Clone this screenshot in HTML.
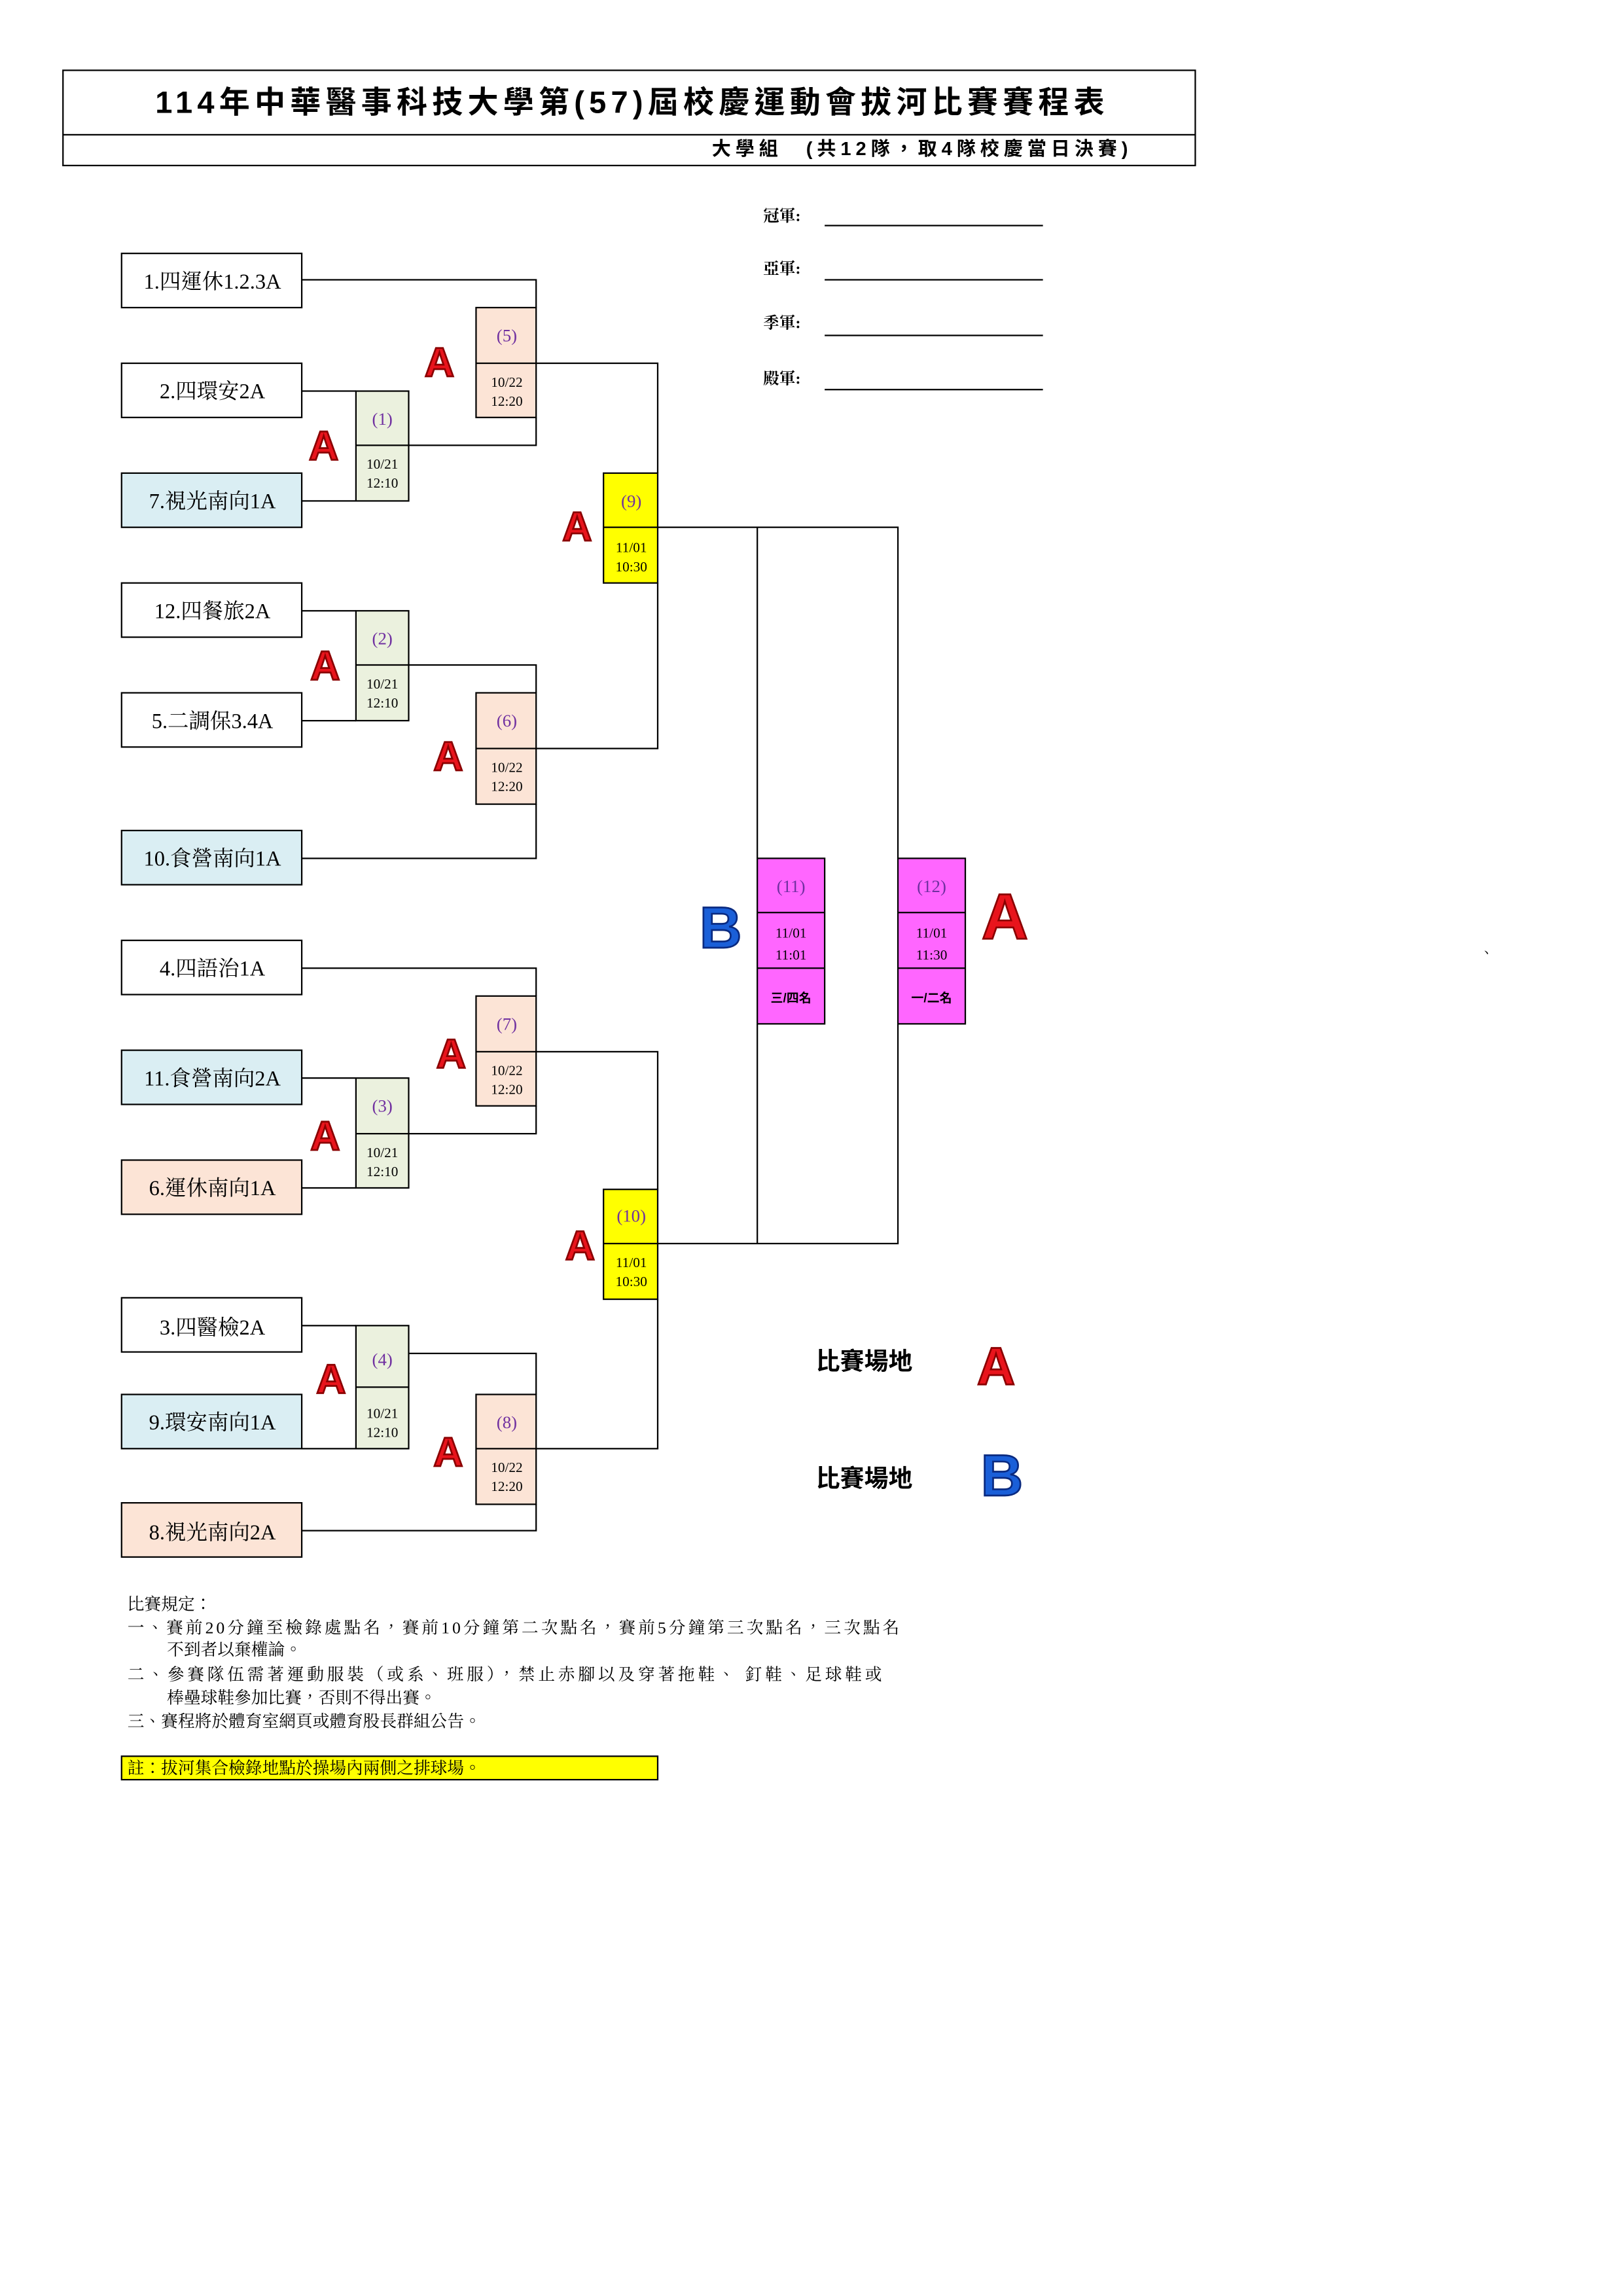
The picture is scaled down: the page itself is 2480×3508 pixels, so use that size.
<!DOCTYPE html>
<html><head><meta charset="utf-8"><style>
html,body{margin:0;padding:0;background:#fff}
svg{display:block}
text{font-family:"Liberation Serif","Noto Serif CJK TC","Noto Serif CJK SC",serif}
.s{font-family:"Liberation Sans","Noto Sans CJK TC",sans-serif}
.t{font-size:14.5px;text-anchor:middle}
.n{font-size:12px;fill:#7030a0;text-anchor:middle}
.d{font-size:9.5px;text-anchor:middle}
.A{font-family:"Liberation Sans",sans-serif;font-weight:bold;fill:#e8141c;stroke:#8a0000;stroke-width:1.2;text-anchor:middle}
.B{font-family:"Liberation Sans",sans-serif;font-weight:bold;fill:#1a5fd8;stroke:#0a2a80;stroke-width:1.2;text-anchor:middle}
</style></head><body>
<svg width="2480" height="3508" viewBox="0 0 1108 1567.5" preserveAspectRatio="none" xmlns="http://www.w3.org/2000/svg">
<g fill="none" stroke="#000" stroke-width="1">
<rect x="43" y="48" width="773" height="65"/>
<line x1="43" y1="92" x2="816" y2="92"/>
</g>
<text x="430" y="77" class="s" font-size="21" font-weight="bold" text-anchor="middle" textLength="648">114年中華醫事科技大學第(57)屆校慶運動會拔河比賽賽程表</text>
<text x="770" y="106" class="s" font-size="13" font-weight="bold" text-anchor="end" textLength="284">大學組　(共12隊，取4隊校慶當日決賽)</text>

<g font-size="11" font-weight="bold" class="s">
<text x="521" y="151">冠軍:</text><text x="521" y="187">亞軍:</text><text x="521" y="224">季軍:</text><text x="521" y="262">殿軍:</text>
</g>
<g stroke="#000" stroke-width="1">
<line x1="563" y1="154" x2="712" y2="154"/><line x1="563" y1="191" x2="712" y2="191"/>
<line x1="563" y1="229" x2="712" y2="229"/><line x1="563" y1="266" x2="712" y2="266"/>
</g>

<g fill="none" stroke="#000" stroke-width="1">
<polyline points="206,191 366,191 366,210"/>
<line x1="206" y1="267" x2="243" y2="267"/><line x1="206" y1="342" x2="243" y2="342"/>
<polyline points="279,304 366,304 366,285"/>
<polyline points="366,248 449,248 449,323"/>
<line x1="206" y1="417" x2="243" y2="417"/><line x1="206" y1="492" x2="243" y2="492"/>
<polyline points="279,454 366,454 366,473"/>
<polyline points="206,586 366,586 366,549"/>
<polyline points="366,511 449,511 449,398"/>
<polyline points="449,360 613,360 613,586"/><line x1="517" y1="360" x2="517" y2="586"/>
<polyline points="206,661 366,661 366,680"/>
<line x1="206" y1="736" x2="243" y2="736"/><line x1="206" y1="811" x2="243" y2="811"/>
<polyline points="279,774 366,774 366,755"/>
<polyline points="366,718 449,718 449,812"/>
<polyline points="449,849 613,849 613,699"/><line x1="517" y1="849" x2="517" y2="699"/>
<line x1="206" y1="905" x2="243" y2="905"/><line x1="206" y1="989" x2="279" y2="989"/>
<polyline points="279,924 366,924 366,952"/>
<polyline points="206,1045 366,1045 366,1027"/>
<polyline points="366,989 449,989 449,887"/>
</g>

<g stroke="#000" stroke-width="1">
<rect x="83" y="173" width="123" height="37" fill="#fff"/>
<rect x="83" y="248" width="123" height="37" fill="#fff"/>
<rect x="83" y="323" width="123" height="37" fill="#daeef3"/>
<rect x="83" y="398" width="123" height="37" fill="#fff"/>
<rect x="83" y="473" width="123" height="37" fill="#fff"/>
<rect x="83" y="567" width="123" height="37" fill="#daeef3"/>
<rect x="83" y="642" width="123" height="37" fill="#fff"/>
<rect x="83" y="717" width="123" height="37" fill="#daeef3"/>
<rect x="83" y="792" width="123" height="37" fill="#fce4d6"/>
<rect x="83" y="886" width="123" height="37" fill="#fff"/>
<rect x="83" y="952" width="123" height="37" fill="#daeef3"/>
<rect x="83" y="1026" width="123" height="37" fill="#fce4d6"/>
</g>
<g>
<text x="145" y="197" class="t">1.四運休1.2.3A</text>
<text x="145" y="272" class="t">2.四環安2A</text>
<text x="145" y="347" class="t">7.視光南向1A</text>
<text x="145" y="422" class="t">12.四餐旅2A</text>
<text x="145" y="497" class="t">5.二調保3.4A</text>
<text x="145" y="591" class="t">10.食營南向1A</text>
<text x="145" y="666" class="t">4.四語治1A</text>
<text x="145" y="741" class="t">11.食營南向2A</text>
<text x="145" y="816" class="t">6.運休南向1A</text>
<text x="145" y="911" class="t">3.四醫檢2A</text>
<text x="145" y="976" class="t">9.環安南向1A</text>
<text x="145" y="1051" class="t">8.視光南向2A</text>
</g>

<g stroke="#000" stroke-width="1">
<rect x="243" y="267" width="36" height="75" fill="#ebf1de"/><line x1="243" y1="304" x2="279" y2="304"/>
<rect x="243" y="417" width="36" height="75" fill="#ebf1de"/><line x1="243" y1="454" x2="279" y2="454"/>
<rect x="243" y="736" width="36" height="75" fill="#ebf1de"/><line x1="243" y1="774" x2="279" y2="774"/>
<rect x="243" y="905" width="36" height="84" fill="#ebf1de"/><line x1="243" y1="947" x2="279" y2="947"/>
<rect x="325" y="210" width="41" height="75" fill="#fce4d6"/><line x1="325" y1="248" x2="366" y2="248"/>
<rect x="325" y="473" width="41" height="76" fill="#fce4d6"/><line x1="325" y1="511" x2="366" y2="511"/>
<rect x="325" y="680" width="41" height="75" fill="#fce4d6"/><line x1="325" y1="718" x2="366" y2="718"/>
<rect x="325" y="952" width="41" height="75" fill="#fce4d6"/><line x1="325" y1="989" x2="366" y2="989"/>
<rect x="412" y="323" width="37" height="75" fill="#ffff00"/><line x1="412" y1="360" x2="449" y2="360"/>
<rect x="412" y="812" width="37" height="75" fill="#ffff00"/><line x1="412" y1="849" x2="449" y2="849"/>
<rect x="517" y="586" width="46" height="113" fill="#ff66ff"/><line x1="517" y1="623" x2="563" y2="623"/><line x1="517" y1="661" x2="563" y2="661"/>
<rect x="613" y="586" width="46" height="113" fill="#ff66ff"/><line x1="613" y1="623" x2="659" y2="623"/><line x1="613" y1="661" x2="659" y2="661"/>
</g>
<g>
<text x="261" y="290" class="n">(1)</text><text x="261" y="320" class="d">10/21</text><text x="261" y="333" class="d">12:10</text>
<text x="261" y="440" class="n">(2)</text><text x="261" y="470" class="d">10/21</text><text x="261" y="483" class="d">12:10</text>
<text x="261" y="759" class="n">(3)</text><text x="261" y="790" class="d">10/21</text><text x="261" y="803" class="d">12:10</text>
<text x="261" y="932" class="n">(4)</text><text x="261" y="968" class="d">10/21</text><text x="261" y="981" class="d">12:10</text>
<text x="346" y="233" class="n">(5)</text><text x="346" y="264" class="d">10/22</text><text x="346" y="277" class="d">12:20</text>
<text x="346" y="496" class="n">(6)</text><text x="346" y="527" class="d">10/22</text><text x="346" y="540" class="d">12:20</text>
<text x="346" y="703" class="n">(7)</text><text x="346" y="734" class="d">10/22</text><text x="346" y="747" class="d">12:20</text>
<text x="346" y="975" class="n">(8)</text><text x="346" y="1005" class="d">10/22</text><text x="346" y="1018" class="d">12:20</text>
<text x="431" y="346" class="n">(9)</text><text x="431" y="377" class="d">11/01</text><text x="431" y="390" class="d">10:30</text>
<text x="431" y="834" class="n">(10)</text><text x="431" y="865" class="d">11/01</text><text x="431" y="878" class="d">10:30</text>
<text x="540" y="609" class="n">(11)</text><text x="540" y="640" class="d" font-size="11">11/01</text><text x="540" y="655" class="d" font-size="11">11:01</text>
<text x="540" y="684" font-size="8.5" font-weight="bold" text-anchor="middle" class="s">三/四名</text>
<text x="636" y="609" class="n">(12)</text><text x="636" y="640" class="d" font-size="11">11/01</text><text x="636" y="655" class="d" font-size="11">11:30</text>
<text x="636" y="684" font-size="8.5" font-weight="bold" text-anchor="middle" class="s">一/二名</text>
</g>

<g font-size="28">
<text x="300" y="257" class="A">A</text>
<text x="221" y="314" class="A">A</text>
<text x="394" y="369" class="A">A</text>
<text x="222" y="464" class="A">A</text>
<text x="306" y="526" class="A">A</text>
<text x="308" y="729" class="A">A</text>
<text x="222" y="785" class="A">A</text>
<text x="396" y="860" class="A">A</text>
<text x="226" y="951" class="A">A</text>
<text x="306" y="1001" class="A">A</text>
</g>
<text x="686" y="641" class="A" font-size="44">A</text>
<text x="492" y="647" class="B" font-size="40">B</text>
<text x="680" y="945" class="A" font-size="36">A</text>
<text x="684" y="1021" class="B" font-size="40">B</text>
<text x="590" y="935" font-size="16.5" font-weight="bold" text-anchor="middle" class="s">比賽場地</text>
<text x="590" y="1015" font-size="16.5" font-weight="bold" text-anchor="middle" class="s">比賽場地</text>
<text x="1010" y="654" font-size="10">、</text>

<g font-size="11.5">
<text x="87" y="1099">比賽規定：</text>
<text x="87" y="1115" textLength="527">一、賽前20分鐘至檢錄處點名，賽前10分鐘第二次點名，賽前5分鐘第三次點名，三次點名</text>
<text x="114" y="1130">不到者以棄權論。</text>
<text x="87" y="1147" textLength="515">二、參賽隊伍需著運動服裝（或系、班服），禁止赤腳以及穿著拖鞋、 釘鞋、足球鞋或</text>
<text x="114" y="1163">棒壘球鞋參加比賽，否則不得出賽。</text>
<text x="87" y="1179">三、賽程將於體育室網頁或體育股長群組公告。</text>
</g>
<rect x="83" y="1199" width="366" height="16" fill="#ffff00" stroke="#000" stroke-width="1"/>
<text x="87" y="1211" font-size="11.5">註：拔河集合檢錄地點於操場內兩側之排球場。</text>
</svg>
</body></html>
